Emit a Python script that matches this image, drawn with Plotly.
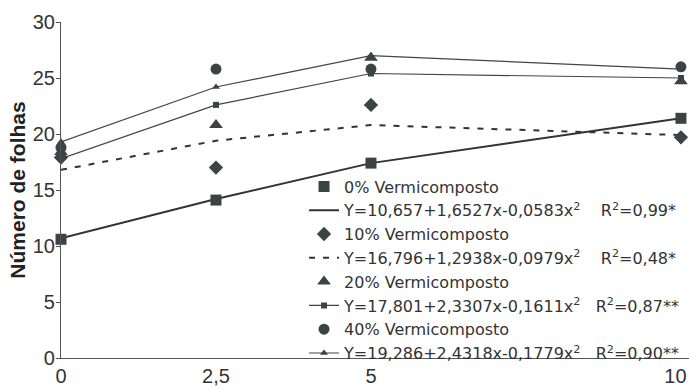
import plotly.graph_objects as go

# Doses (x) and tick labels
x_vals = [0, 2.5, 5, 10]
x_ticktext = ["0", "2,5", "5", "10\u00a0\u00a0"]
y_tickvals = [0, 5, 10, 15, 20, 25, 30]

# Observed values (Número de folhas)
obs_0 = [10.6, 14.1, 17.4, 21.4]
obs_10 = [17.9, 17.0, 22.6, 19.7]
obs_20 = [18.4, 20.8, 26.8, 24.7]
obs_40 = [18.8, 25.8, 25.8, 26.0]

# Fitted curves (as drawn)
fit_0 = [10.7, 14.2, 17.4, 21.4]
fit_10 = [16.8, 19.4, 20.8, 19.9]
fit_20 = [17.8, 22.6, 25.4, 25.0]
fit_40 = [19.3, 24.2, 27.0, 25.8]

obs_names = ["0% Vermicomposto", "10% Vermicomposto", "20% Vermicomposto", "40% Vermicomposto"]
NB = "\u00a0"
fit_names = [
    "Y=10,657+1,6527x-0,0583x<sup>2</sup>" + NB * 4 + "R<sup>2</sup>=0,99*",
    "Y=16,796+1,2938x-0,0979x<sup>2</sup>" + NB * 4 + "R<sup>2</sup>=0,48*",
    "Y=17,801+2,3307x-0,1611x<sup>2</sup>" + NB * 3 + "R<sup>2</sup>=0,87**",
    "Y=19,286+2,4318x-0,1779x<sup>2</sup>" + NB * 3 + "R<sup>2</sup>=0,90**",
]

MK = "#3a4444"
LN = "#444444"

fig = go.Figure()

# fitted lines
fig.add_trace(go.Scatter(x=x_vals, y=fit_0, mode="lines", name=fit_names[0], legendrank=2,
                         line=dict(color="#333", width=2), cliponaxis=False))
fig.add_trace(go.Scatter(x=x_vals, y=fit_10, mode="lines", name=fit_names[1], legendrank=4,
                         line=dict(color="#333", width=2, dash="6px,8px"), cliponaxis=False))
fig.add_trace(go.Scatter(x=x_vals, y=fit_20, mode="lines+markers", name=fit_names[2], legendrank=6,
                         line=dict(color=LN, width=1.2),
                         marker=dict(symbol="square", size=6, color=MK), cliponaxis=False))
fig.add_trace(go.Scatter(x=x_vals, y=fit_40, mode="lines+markers", name=fit_names[3], legendrank=8,
                         line=dict(color=LN, width=1.2),
                         marker=dict(symbol="triangle-up", size=7, color=MK), cliponaxis=False))

# observed points
fig.add_trace(go.Scatter(x=x_vals, y=obs_0, mode="markers", name=obs_names[0], legendrank=1,
                         marker=dict(symbol="square", size=11, color=MK), cliponaxis=False))
fig.add_trace(go.Scatter(x=x_vals, y=obs_10, mode="markers", name=obs_names[1], legendrank=3,
                         marker=dict(symbol="diamond", size=11, color=MK), cliponaxis=False))
fig.add_trace(go.Scatter(x=x_vals, y=obs_20, mode="markers", name=obs_names[2], legendrank=5,
                         marker=dict(symbol="triangle-up", size=12, color=MK), cliponaxis=False))
fig.add_trace(go.Scatter(x=x_vals, y=obs_40, mode="markers", name=obs_names[3], legendrank=7,
                         marker=dict(symbol="circle", size=11, color=MK), cliponaxis=False))

fig.update_layout(
    width=689, height=390,
    margin=dict(l=61, r=0, t=22, b=32),
    paper_bgcolor="white", plot_bgcolor="white",
    font=dict(family="Liberation Sans, Arial, sans-serif", color="#333"),
    showlegend=True,
    legend=dict(x=0.387, y=0.561, xanchor="left", yanchor="top",
                bgcolor="rgba(0,0,0,0)", borderwidth=0,
                font=dict(family="DejaVu Sans", size=16, color="#333"), itemwidth=30,
                traceorder="normal"),
)
fig.update_xaxes(range=[0, 10.13], tickvals=x_vals, ticktext=x_ticktext, automargin=False,
                 ticklabeloverflow="allow",
                 showline=True, linecolor="#555", linewidth=1.2, ticks="",
                 showgrid=False, zeroline=False, tickfont=dict(size=20, color="#333"))
fig.update_yaxes(range=[0, 30], tickvals=y_tickvals, showline=True, linecolor="#555", linewidth=1.2,
                 automargin=False, ticklabelstandoff=-3,
                 ticks="outside", ticklen=4, tickcolor="#555", showgrid=False, zeroline=False,
                 tickfont=dict(size=20, color="#333"),
                 title=dict(text="<b>Número de folhas</b>", font=dict(size=21, color="#222"), standoff=1))

fig.write_html("out.html", config={"displayModeBar": False},
               post_script="document.body.style.margin='0';document.body.style.padding='0';")
